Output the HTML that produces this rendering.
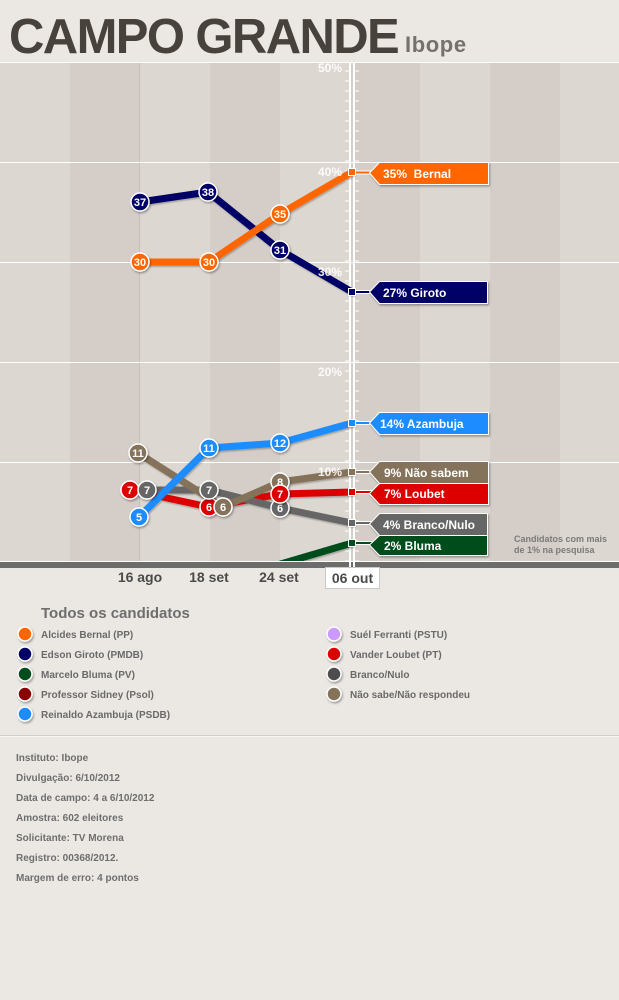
<!DOCTYPE html>
<html>
<head>
<meta charset="utf-8">
<style>
html,body{margin:0;padding:0;background:#ebe8e4;}
svg{display:block;}
text{font-family:"Liberation Sans",Arial,sans-serif;}
.n{font-size:11px;font-weight:bold;fill:#fff;text-anchor:middle;}
.pl{font-size:12px;font-weight:bold;fill:#fff;text-anchor:end;opacity:.9;}
.lb{font-size:12px;font-weight:bold;fill:#fff;white-space:pre;}
.xl{font-size:14px;font-weight:bold;fill:#4a4a4a;text-anchor:middle;}
.lg{font-size:10px;font-weight:bold;fill:#6a6a6a;}
.ft{font-size:10px;font-weight:bold;fill:#6e6e6e;}
</style>
</head>
<body>
<svg width="619" height="1000" viewBox="0 0 619 1000" xmlns="http://www.w3.org/2000/svg">
<defs>
<filter id="sh" x="-30%" y="-30%" width="160%" height="160%"><feDropShadow dx="1" dy="1.5" stdDeviation="1" flood-color="#000" flood-opacity="0.35"/></filter>
<filter id="shl" x="-10%" y="-10%" width="120%" height="130%"><feDropShadow dx="1" dy="1.5" stdDeviation="0.8" flood-color="#000" flood-opacity="0.25"/></filter>
<clipPath id="cl"><rect x="0" y="62" width="619" height="499"/></clipPath>
</defs>

<rect x="0" y="0" width="619" height="1000" fill="#ebe8e4"/>

<!-- title -->
<text x="9" y="53" font-size="49" font-weight="bold" fill="#48423c" letter-spacing="-1.6">CAMPO GRANDE</text>
<text x="405" y="52" font-size="22" font-weight="bold" fill="#75716c" letter-spacing="0.6">Ibope</text>

<!-- bands -->
<rect x="0" y="62" width="70" height="499" fill="#ddd7d1"/>
<rect x="70" y="62" width="70" height="499" fill="#d5cec8"/>
<rect x="140" y="62" width="70" height="499" fill="#ddd7d1"/>
<rect x="210" y="62" width="70" height="499" fill="#d5cec8"/>
<rect x="280" y="62" width="70" height="499" fill="#ddd7d1"/>
<rect x="350" y="62" width="70" height="499" fill="#d5cec8"/>
<rect x="420" y="62" width="70" height="499" fill="#ddd7d1"/>
<rect x="490" y="62" width="70" height="499" fill="#d5cec8"/>
<rect x="560" y="62" width="59" height="499" fill="#ddd7d1"/>
<line x1="139.5" y1="62" x2="139.5" y2="561" stroke="#c6bfb8" stroke-width="1"/>

<!-- gridlines -->
<g stroke="#fff" stroke-width="1">
<line x1="0" y1="62.5" x2="619" y2="62.5"/>
<line x1="0" y1="162.5" x2="619" y2="162.5"/>
<line x1="0" y1="262.5" x2="619" y2="262.5"/>
<line x1="0" y1="362.5" x2="619" y2="362.5"/>
<line x1="0" y1="462.5" x2="619" y2="462.5"/>
<line x1="0" y1="561.5" x2="619" y2="561.5"/>
</g>
<rect x="0" y="562" width="619" height="6" fill="#6c6c6c"/>

<!-- axis -->
<rect x="349" y="62" width="2" height="506" fill="#fff"/>
<rect x="353" y="62" width="2" height="506" fill="#fff"/>
<path d="M347 70.5V561" stroke="#fff" stroke-width="4" stroke-dasharray="1 9"/>
<path d="M357 70.5V561" stroke="#fff" stroke-width="4" stroke-dasharray="1 9"/>

<!-- series lines -->
<g fill="none" stroke-width="7" stroke-linejoin="round" stroke-linecap="round" clip-path="url(#cl)" filter="url(#shl)">
<polyline points="250,573 352,543" stroke="#004d1f"/>
<polyline points="130,490 209,507 280,494 352,492" stroke="#dd0000"/>
<polyline points="147,490 209,490 280,508 352,523" stroke="#666666"/>
<polyline points="138,453 223,507 280,482 352,472" stroke="#85725a"/>
<polyline points="139,517 209,448 280,443 352,423" stroke="#1a8cff"/>
<polyline points="140,202 208,192 280,250 352,292" stroke="#000066"/>
<polyline points="140,262 209,262 280,214 352,172" stroke="#ff6600"/>
</g>

<!-- percent labels -->
<text class="pl" x="342" y="72">50%</text>
<text class="pl" x="342" y="176">40%</text>
<text class="pl" x="342" y="276">30%</text>
<text class="pl" x="342" y="376">20%</text>
<text class="pl" x="342" y="476">10%</text>

<!-- connectors -->
<g stroke-width="4" stroke="#fff">
<line x1="354" y1="172.5" x2="372" y2="172.5"/>
<line x1="354" y1="292" x2="372" y2="292"/>
<line x1="354" y1="423" x2="372" y2="423"/>
<line x1="354" y1="472" x2="372" y2="472"/>
<line x1="354" y1="492" x2="372" y2="492"/>
<line x1="354" y1="523" x2="372" y2="523"/>
<line x1="354" y1="543" x2="372" y2="543"/>
</g>
<g stroke-width="2">
<line x1="354" y1="172.5" x2="372" y2="172.5" stroke="#ff6600"/>
<line x1="354" y1="292" x2="372" y2="292" stroke="#000066"/>
<line x1="354" y1="423" x2="372" y2="423" stroke="#1a8cff"/>
<line x1="354" y1="472" x2="372" y2="472" stroke="#85725a"/>
<line x1="354" y1="492" x2="372" y2="492" stroke="#dd0000"/>
<line x1="354" y1="523" x2="372" y2="523" stroke="#666666"/>
<line x1="354" y1="543" x2="372" y2="543" stroke="#004d1f"/>
</g>

<!-- end squares -->
<g stroke="#fff" stroke-width="1">
<rect x="348.5" y="168.5" width="7" height="7" fill="#ff6600"/>
<rect x="348.5" y="288.5" width="7" height="7" fill="#000066"/>
<rect x="348.5" y="419.5" width="7" height="7" fill="#1a8cff"/>
<rect x="348.5" y="468.5" width="7" height="7" fill="#85725a"/>
<rect x="348.5" y="488.5" width="7" height="7" fill="#dd0000"/>
<rect x="348.5" y="519.5" width="7" height="7" fill="#666666"/>
<rect x="348.5" y="539.5" width="7" height="7" fill="#004d1f"/>
</g>

<!-- label flags -->
<g stroke="#fff" stroke-width="1" filter="url(#sh)">
<polygon points="369.5,173 379.5,162.5 488.5,162.5 488.5,184.5 379.5,184.5" fill="#ff6600"/>
<polygon points="369.5,292 379.5,281.5 487.5,281.5 487.5,303.5 379.5,303.5" fill="#000066"/>
<polygon points="369.5,423 379.5,412.5 488.5,412.5 488.5,434.5 379.5,434.5" fill="#1a8cff"/>
<polygon points="369.5,472 379.5,461.5 488.5,461.5 488.5,483.5 379.5,483.5" fill="#85725a"/>
<polygon points="369.5,493.5 379.5,483.5 488.5,483.5 488.5,504.5 379.5,504.5" fill="#dd0000"/>
<polygon points="369.5,524 379.5,513.5 487.5,513.5 487.5,535.5 379.5,535.5" fill="#666666"/>
<polygon points="369.5,545 379.5,535.5 487.5,535.5 487.5,555.5 379.5,555.5" fill="#004d1f"/>
</g>
<text class="lb" x="383" y="178">35%  Bernal</text>
<text class="lb" x="383" y="297">27% Giroto</text>
<text class="lb" x="380" y="428">14% Azambuja</text>
<text class="lb" x="384" y="477">9% Não sabem</text>
<text class="lb" x="384" y="498">7% Loubet</text>
<text class="lb" x="383" y="529">4% Branco/Nulo</text>
<text class="lb" x="384" y="550">2% Bluma</text>

<!-- data circles (each followed by its number to control stacking) -->
<g filter="url(#sh)"><circle cx="130" cy="490" r="9" fill="#dd0000" stroke="#fff" stroke-width="1.5"/></g>
<text class="n" x="130" y="494">7</text>
<g filter="url(#sh)"><circle cx="209" cy="507" r="9" fill="#dd0000" stroke="#fff" stroke-width="1.5"/></g>
<text class="n" x="209" y="511">6</text>
<g filter="url(#sh)"><circle cx="147" cy="490" r="9" fill="#666666" stroke="#fff" stroke-width="1.5"/></g>
<text class="n" x="147" y="494">7</text>
<g filter="url(#sh)"><circle cx="209" cy="490" r="9" fill="#666666" stroke="#fff" stroke-width="1.5"/></g>
<text class="n" x="209" y="494">7</text>
<g filter="url(#sh)"><circle cx="280" cy="508" r="9" fill="#666666" stroke="#fff" stroke-width="1.5"/></g>
<text class="n" x="280" y="512">6</text>
<g filter="url(#sh)"><circle cx="138" cy="453" r="9" fill="#85725a" stroke="#fff" stroke-width="1.5"/></g>
<text class="n" x="138" y="457">11</text>
<g filter="url(#sh)"><circle cx="223" cy="507" r="9" fill="#85725a" stroke="#fff" stroke-width="1.5"/></g>
<text class="n" x="223" y="511">6</text>
<g filter="url(#sh)"><circle cx="280" cy="482" r="9" fill="#85725a" stroke="#fff" stroke-width="1.5"/></g>
<text class="n" x="280" y="486">8</text>
<g filter="url(#sh)"><circle cx="280" cy="494" r="9" fill="#dd0000" stroke="#fff" stroke-width="1.5"/></g>
<text class="n" x="280" y="498">7</text>
<g filter="url(#sh)"><circle cx="139" cy="517" r="9" fill="#1a8cff" stroke="#fff" stroke-width="1.5"/></g>
<text class="n" x="139" y="521">5</text>
<g filter="url(#sh)"><circle cx="209" cy="448" r="9" fill="#1a8cff" stroke="#fff" stroke-width="1.5"/></g>
<text class="n" x="209" y="452">11</text>
<g filter="url(#sh)"><circle cx="280" cy="443" r="9" fill="#1a8cff" stroke="#fff" stroke-width="1.5"/></g>
<text class="n" x="280" y="447">12</text>
<g filter="url(#sh)"><circle cx="140" cy="202" r="9" fill="#000066" stroke="#fff" stroke-width="1.5"/></g>
<text class="n" x="140" y="206">37</text>
<g filter="url(#sh)"><circle cx="208" cy="192" r="9" fill="#000066" stroke="#fff" stroke-width="1.5"/></g>
<text class="n" x="208" y="196">38</text>
<g filter="url(#sh)"><circle cx="280" cy="250" r="9" fill="#000066" stroke="#fff" stroke-width="1.5"/></g>
<text class="n" x="280" y="254">31</text>
<g filter="url(#sh)"><circle cx="140" cy="262" r="9" fill="#ff6600" stroke="#fff" stroke-width="1.5"/></g>
<text class="n" x="140" y="266">30</text>
<g filter="url(#sh)"><circle cx="209" cy="262" r="9" fill="#ff6600" stroke="#fff" stroke-width="1.5"/></g>
<text class="n" x="209" y="266">30</text>
<g filter="url(#sh)"><circle cx="280" cy="214" r="9" fill="#ff6600" stroke="#fff" stroke-width="1.5"/></g>
<text class="n" x="280" y="218">35</text>

<!-- note -->
<text x="514" y="542" font-size="9" font-weight="bold" fill="#7a7a7a">Candidatos com mais</text>
<text x="514" y="553" font-size="9" font-weight="bold" fill="#7a7a7a">de 1% na pesquisa</text>

<!-- x labels -->
<text class="xl" x="140" y="582">16 ago</text>
<text class="xl" x="209" y="582">18 set</text>
<text class="xl" x="279" y="582">24 set</text>
<rect x="325.5" y="567.5" width="54" height="21" fill="#fff" stroke="#c9c9c9" stroke-width="1"/>
<text class="xl" x="352.5" y="583">06 out</text>

<!-- legend -->
<text x="41" y="618" font-size="15" font-weight="bold" fill="#6e6e6e">Todos os candidatos</text>
<g stroke="#fff" stroke-width="1.5" filter="url(#sh)">
<circle cx="25" cy="634" r="7" fill="#ff6600"/>
<circle cx="25" cy="654" r="7" fill="#000066"/>
<circle cx="25" cy="674" r="7" fill="#004d1f"/>
<circle cx="25" cy="694" r="7" fill="#8b0000"/>
<circle cx="25" cy="714" r="7" fill="#1a8cff"/>
<circle cx="334" cy="634" r="7" fill="#cc99ff"/>
<circle cx="334" cy="654" r="7" fill="#dd0000"/>
<circle cx="334" cy="674" r="7" fill="#4d4d4d"/>
<circle cx="334" cy="694" r="7" fill="#85725a"/>
</g>
<text class="lg" x="41" y="638">Alcides Bernal (PP)</text>
<text class="lg" x="41" y="658">Edson Giroto (PMDB)</text>
<text class="lg" x="41" y="678">Marcelo Bluma (PV)</text>
<text class="lg" x="41" y="698">Professor Sidney (Psol)</text>
<text class="lg" x="41" y="718">Reinaldo Azambuja (PSDB)</text>
<text class="lg" x="350" y="638">Suél Ferranti (PSTU)</text>
<text class="lg" x="350" y="658">Vander Loubet (PT)</text>
<text class="lg" x="350" y="678">Branco/Nulo</text>
<text class="lg" x="350" y="698">Não sabe/Não respondeu</text>

<!-- footer -->
<line x1="0" y1="735.5" x2="619" y2="735.5" stroke="#d2cec9" stroke-width="1"/>
<line x1="0" y1="736.5" x2="619" y2="736.5" stroke="#f8f7f5" stroke-width="1"/>
<text class="ft" x="16" y="761">Instituto: Ibope</text>
<text class="ft" x="16" y="781">Divulgação: 6/10/2012</text>
<text class="ft" x="16" y="801">Data de campo: 4 a 6/10/2012</text>
<text class="ft" x="16" y="821">Amostra: 602 eleitores</text>
<text class="ft" x="16" y="841">Solicitante: TV Morena</text>
<text class="ft" x="16" y="861">Registro: 00368/2012.</text>
<text class="ft" x="16" y="881">Margem de erro: 4 pontos</text>
</svg>
</body>
</html>
